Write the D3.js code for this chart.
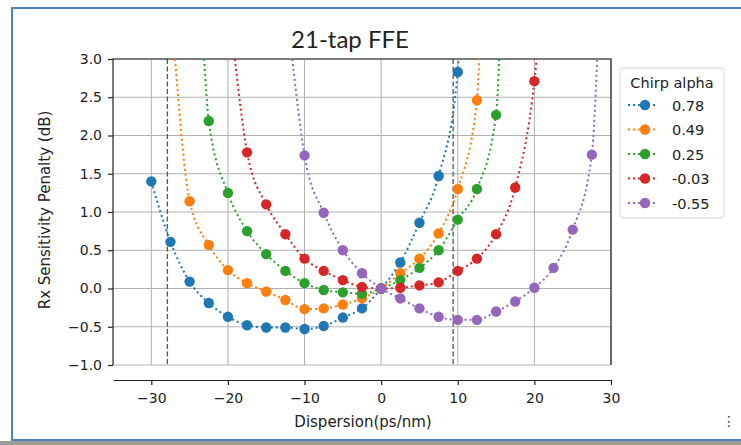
<!DOCTYPE html>
<html>
<head>
<meta charset="utf-8">
<script src="https://cdn.jsdelivr.net/npm/d3@7"></script>
<style>
  body { margin: 0; background: #fff; }
  svg { display: block; font-family: "DejaVu Sans", sans-serif; }
</style>
</head>
<body>
<div id="chart"></div>
<script>
// dispersion points (ps/nm), every 2.5
const dispersion = [-30, -27.5, -25, -22.5, -20, -17.5, -15, -12.5, -10, -7.5, -5, -2.5,
  0, 2.5, 5, 7.5, 10, 12.5, 15, 17.5, 20, 22.5, 25, 27.5];

const chirpLabels = ["0.78", "0.49", "0.25", "-0.03", "-0.55"];

// penalty in dB, null where no measurement
const penalty078 = [1.40, 0.61, 0.09, -0.19, -0.37, -0.48, -0.51, -0.51, -0.53, -0.49, -0.38, -0.26,
  0, 0.34, 0.86, 1.47, 2.83, null, null, null, null, null, null, null];
const penalty049 = [null, null, 1.14, 0.57, 0.24, 0.07, -0.04, -0.15, -0.27, -0.26, -0.21, -0.13,
  0, 0.20, 0.39, 0.72, 1.30, 2.46, null, null, null, null, null, null];
const penalty025 = [null, null, null, 2.19, 1.25, 0.75, 0.45, 0.23, 0.07, -0.02, -0.05, -0.07,
  0, 0.11, 0.27, 0.50, 0.90, 1.30, 2.27, null, null, null, null, null];
const penaltyM003 = [null, null, null, null, null, 1.78, 1.10, 0.71, 0.39, 0.23, 0.11, 0.02,
  0, 0.01, 0.04, 0.08, 0.23, 0.39, 0.71, 1.32, 2.71, null, null, null];
const penaltyM055 = [null, null, null, null, null, null, null, null, 1.74, 0.99, 0.50, 0.20,
  0, -0.13, -0.26, -0.37, -0.41, -0.41, -0.30, -0.17, 0.01, 0.27, 0.77, 1.75];

// where the fitted dotted curves leave the top of the plot (dispersion at 3 dB)
const curveLeftEnd = [null, -26.9, -23.1, -19.1, -11.6];
const curveRightEnd = [10.1, 12.8, 15.4, 20.3, 28.2];

// dashed reach limits
const reachLimits = [-27.9, 9.4];

const xTicks = [-30, -20, -10, 0, 10, 20, 30];
const yTicks = [-1.0, -0.5, 0.0, 0.5, 1.0, 1.5, 2.0, 2.5, 3.0];

const series = [penalty078, penalty049, penalty025, penaltyM003, penaltyM055];
const colors = ["#1f77b4", "#ff7f0e", "#2ca02c", "#d62728", "#9467bd"];

const W = 741, H = 445;
const plot = { left: 113, right: 611, top: 59, bottom: 365 };
const xAxisY = 380;

const svg = d3.select("#chart").append("svg")
  .attr("width", W)
  .attr("height", H);

// screenshot frame
svg.append("rect")
  .attr("x", 0).attr("y", 441).attr("width", W).attr("height", 4)
  .attr("fill", "#9a9a9a");
svg.append("rect")
  .attr("x", 12).attr("y", 8).attr("width", W + 10).attr("height", 432)
  .attr("fill", "#fff")
  .attr("stroke", "#4f81bd")
  .attr("stroke-width", 2);

const x = d3.scaleLinear().domain([-35, 30]).range([plot.left, plot.right]);
const y = d3.scaleLinear().domain([-1, 3]).range([plot.bottom, plot.top]);

svg.append("defs").append("clipPath").attr("id", "clip")
  .append("rect")
  .attr("x", plot.left).attr("y", plot.top)
  .attr("width", plot.right - plot.left).attr("height", plot.bottom - plot.top);

// grid
svg.append("g")
  .selectAll("line")
  .data(xTicks)
  .join("line")
  .attr("x1", d => x(d)).attr("x2", d => x(d))
  .attr("y1", plot.top).attr("y2", plot.bottom)
  .attr("stroke", "#b0b0b0").attr("stroke-width", 1);

svg.append("g")
  .selectAll("line")
  .data(yTicks)
  .join("line")
  .attr("x1", plot.left).attr("x2", plot.right)
  .attr("y1", d => y(d)).attr("y2", d => y(d))
  .attr("stroke", "#b0b0b0").attr("stroke-width", 1);

// reach limits
svg.append("g")
  .selectAll("line")
  .data(reachLimits)
  .join("line")
  .attr("x1", d => x(d)).attr("x2", d => x(d))
  .attr("y1", plot.top).attr("y2", plot.bottom)
  .attr("stroke", "#555").attr("stroke-width", 1.3)
  .attr("stroke-dasharray", "5,2.5");

// spines (left, top, right)
svg.append("path")
  .attr("d", `M${plot.left},${plot.bottom}V${plot.top}H${plot.right}V${plot.bottom}`)
  .attr("fill", "none").attr("stroke", "#222").attr("stroke-width", 1.2);

// axes
const yAxis = svg.append("g")
  .attr("transform", `translate(${plot.left},0)`)
  .call(d3.axisLeft(y).tickValues(yTicks).tickFormat(d3.format(".1f")).tickSize(5).tickPadding(6));
yAxis.select(".domain").remove();

const xAxis = svg.append("g")
  .attr("transform", `translate(0,${xAxisY})`)
  .call(d3.axisBottom(x).tickValues(xTicks).tickSize(5).tickSizeOuter(0).tickPadding(8));

svg.selectAll(".tick text").attr("font-size", 14).attr("fill", "#222").attr("font-family", "DejaVu Sans, sans-serif");
svg.selectAll(".tick line, .domain").attr("stroke", "#222").attr("stroke-width", 1.2);

// curves + markers
const line = d3.line()
  .x(d => x(d[0]))
  .y(d => y(d[1]))
  .curve(d3.curveMonotoneX);

const plotG = svg.append("g");

series.forEach((vals, i) => {
  const pts = dispersion.map((d, j) => [d, vals[j]]).filter(p => p[1] !== null);
  const curvePts = pts.slice();
  if (curveLeftEnd[i] !== null) curvePts.unshift([curveLeftEnd[i], 3.0]);
  if (curveRightEnd[i] !== null) curvePts.push([curveRightEnd[i], 3.0]);

  plotG.append("path")
    .datum(curvePts)
    .attr("clip-path", "url(#clip)")
    .attr("d", line)
    .attr("fill", "none")
    .attr("stroke", colors[i])
    .attr("stroke-width", 2)
    .attr("stroke-dasharray", "2,3");

  plotG.append("g")
    .selectAll("circle")
    .data(pts)
    .join("circle")
    .attr("cx", d => x(d[0]))
    .attr("cy", d => y(d[1]))
    .attr("r", 5.2)
    .attr("fill", colors[i]);
});

// title and axis labels
svg.append("text")
  .attr("x", 350).attr("y", 48)
  .attr("text-anchor", "middle")
  .attr("font-family", "Lato, sans-serif")
  .attr("font-size", 24)
  .attr("fill", "#222")
  .text("21-tap FFE");

svg.append("text")
  .attr("x", 363).attr("y", 427)
  .attr("text-anchor", "middle")
  .attr("font-size", 15)
  .attr("fill", "#222")
  .text("Dispersion(ps/nm)");

svg.append("text")
  .attr("transform", `translate(50,210) rotate(-90)`)
  .attr("text-anchor", "middle")
  .attr("font-size", 15)
  .attr("fill", "#222")
  .text("Rx Sensitivity Penalty (dB)");

// legend
const legend = svg.append("g");
legend.append("rect")
  .attr("x", 620).attr("y", 68).attr("width", 104).attr("height", 150)
  .attr("rx", 3)
  .attr("fill", "#fff").attr("stroke", "#d6d6d6");
legend.append("text")
  .attr("x", 672).attr("y", 88)
  .attr("text-anchor", "middle")
  .attr("font-size", 14.5)
  .attr("fill", "#222")
  .text("Chirp alpha");

chirpLabels.forEach((lab, i) => {
  const ly = 105 + i * 24.5;
  legend.append("line")
    .attr("x1", 628).attr("x2", 658).attr("y1", ly).attr("y2", ly)
    .attr("stroke", colors[i]).attr("stroke-width", 2).attr("stroke-dasharray", "2,3");
  legend.append("circle")
    .attr("cx", 645).attr("cy", ly).attr("r", 5.2).attr("fill", colors[i]);
  legend.append("text")
    .attr("x", 672).attr("y", ly + 5.5)
    .attr("font-size", 14.5)
    .attr("fill", "#222")
    .text(lab);
});

svg.append("text")
  .attr("x", 729).attr("y", 426)
  .attr("text-anchor", "middle")
  .attr("font-size", 14)
  .attr("fill", "#444")
  .text("⋮");
</script>
</body>
</html>
